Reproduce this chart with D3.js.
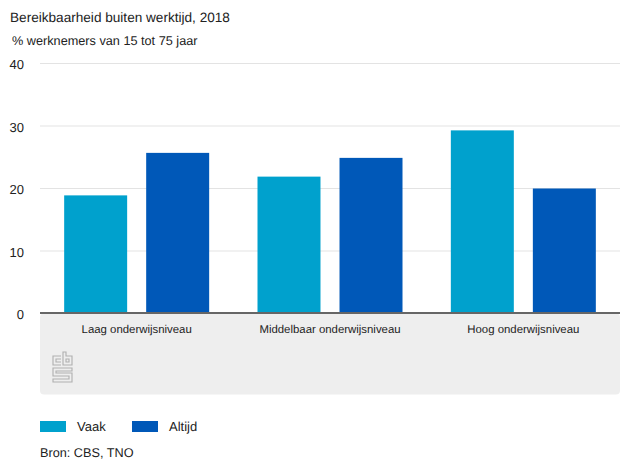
<!DOCTYPE html>
<html>
<head>
<meta charset="utf-8">
<script src="https://cdn.jsdelivr.net/npm/d3@7"></script>
<style>
  html, body { margin: 0; padding: 0; background: #fff; }
  text { font-family: "Liberation Sans", Arial, sans-serif; fill: #222; text-rendering: geometricPrecision; }
</style>
</head>
<body>
<div id="chart"></div>
<script>
let categories = ["Laag onderwijsniveau", "Middelbaar onderwijsniveau", "Hoog onderwijsniveau"]
let vaak = [18.9, 21.9, 29.3]
let altijd = [25.7, 24.9, 20]
let seriesNames = ["Vaak", "Altijd"]
let seriesColors = ["#00a1cd", "#0058b8"]
let yTicks = [0, 10, 20, 30, 40]

let width = 630, height = 473
let plotLeft = 40, plotRight = 620, plotTop = 63.5, plotBottom = 313.5
let groupWidth = 145

const svg = d3.select("#chart").append("svg").attr("width", width).attr("height", height).style("display", "block")

svg.append("text").attr("x", 10).attr("y", 22).attr("font-size", 13.6).text("Bereikbaarheid buiten werktijd, 2018")
svg.append("text").attr("x", 12).attr("y", 45).attr("font-size", 12.7).text("% werknemers van 15 tot 75 jaar")

let x = d3.scaleBand().domain(categories).range([plotLeft, plotRight])
let y = d3.scaleLinear().domain([0, 40]).range([plotBottom, plotTop])
let xInner = d3.scaleBand().domain(seriesNames).range([0, groupWidth]).paddingInner(0.232)

//grey panel under the axis
svg.append("rect").attr("x", plotLeft).attr("y", plotBottom).attr("width", plotRight - plotLeft).attr("height", 81).attr("rx", 4).attr("fill", "#eeeeee")

//gridlines + y labels
svg.append("g").call(d3.axisLeft(y).tickValues(yTicks).tickSize(-(plotRight - plotLeft)).tickFormat(d3.format("d")).offset(0))
  .attr("transform", `translate(${plotLeft},0)`)
  .call(g => g.select(".domain").remove())
  .call(g => g.selectAll("line").attr("stroke", "#e3e3e3"))
  .call(g => g.selectAll("text").attr("x", -16).attr("dy", "0.46em").attr("font-size", 13).attr("font-family", "Liberation Sans").attr("fill", "#222"))

//bars
let series = [vaak, altijd]
series.forEach((values, s) => {
  svg.append("g").selectAll("rect").data(values).enter().append("rect")
    .attr("x", (d, i) => x(categories[i]) + (x.bandwidth() - groupWidth) / 2 + xInner(seriesNames[s]))
    .attr("y", d => y(d))
    .attr("width", xInner.bandwidth())
    .attr("height", d => y(0) - y(d))
    .attr("fill", seriesColors[s])
})

//x axis
svg.append("g").attr("transform", `translate(0,${plotBottom - 0.5})`).call(d3.axisBottom(x).tickSize(0).offset(0))
  .call(g => g.select(".domain").attr("stroke", "#666").attr("stroke-width", 2))
  .call(g => g.selectAll("text").attr("y", 12).attr("font-size", 11.4).attr("font-family", "Liberation Sans").attr("fill", "#222"))

//cbs logo
let logo = svg.append("g").attr("transform", "translate(52,351)").attr("fill", "none").attr("stroke", "#b0b0b0").attr("stroke-width", 1.1)
logo.append("path").attr("d", "M9 5H1V14H9 M9 8H4V11H9")
logo.append("path").attr("d", "M11 1V14H20V5H14V1Z M14 8H17V11H14Z")
logo.append("path").attr("d", "M20 17H1V25H17V28H1V31H20V22H4V20H20Z")

//legend
let legendX = [40, 132]
seriesNames.forEach((name, i) => {
  svg.append("rect").attr("x", legendX[i]).attr("y", 421).attr("width", 26).attr("height", 11).attr("fill", seriesColors[i])
  svg.append("text").attr("x", legendX[i] + 37).attr("y", 431).attr("font-size", 13).text(name)
})

svg.append("text").attr("x", 40).attr("y", 456.5).attr("font-size", 12.7).text("Bron: CBS, TNO")
</script>
</body>
</html>
